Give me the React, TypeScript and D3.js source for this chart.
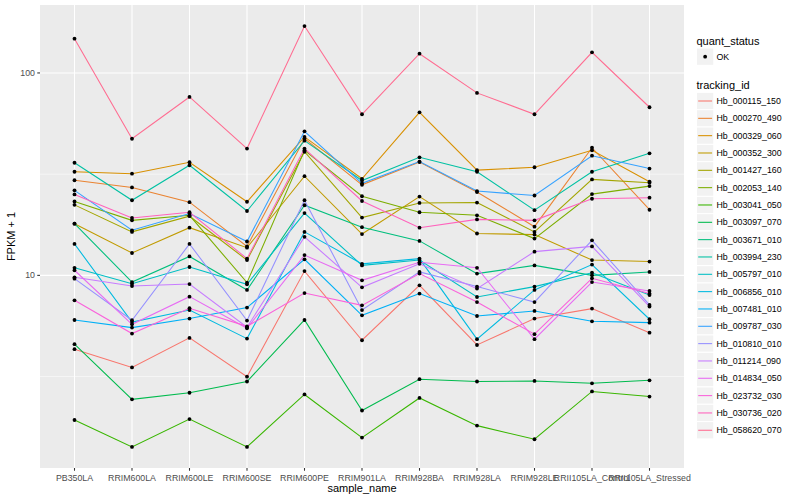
import { useEffect, useRef } from 'react';
import * as d3 from 'd3';

const samples = [
  'PB350LA', 'RRIM600LA', 'RRIM600LE', 'RRIM600SE', 'RRIM600PE', 'RRIM901LA',
  'RRIM928BA', 'RRIM928LA', 'RRIM928LE', 'RRII105LA_Control', 'RRII105LA_Stressed',
];

// FPKM + 1 per sample, one array per tracking_id
const hb_000115_150 = [4.32, 3.51, 4.91, 3.16, 10.5, 4.78, 8.93, 4.53, 6.12, 6.85, 5.21];
const hb_000270_490 = [29.5, 27.2, 23.0, 13.9, 47.4, 28.0, 36.3, 25.8, 17.4, 42.7, 21.1];
const hb_000329_060 = [32.5, 31.8, 36.2, 23.1, 48.3, 30.0, 63.9, 33.1, 34.2, 41.5, 29.0];
const hb_000352_300 = [18.0, 12.9, 17.2, 13.7, 30.9, 16.0, 24.5, 16.1, 15.9, 11.9, 11.7];
const hb_001427_160 = [22.3, 16.4, 19.6, 11.9, 40.8, 19.3, 22.8, 22.9, 16.4, 29.8, 28.7];
const hb_002053_140 = [23.2, 18.7, 19.8, 9.21, 41.5, 24.6, 20.5, 19.8, 15.2, 25.2, 27.6];
const hb_003041_050 = [1.93, 1.42, 1.95, 1.42, 2.58, 1.58, 2.48, 1.81, 1.55, 2.67, 2.52];
const hb_003097_070 = [4.57, 2.44, 2.63, 2.99, 6.02, 2.15, 3.07, 2.99, 3.01, 2.93, 3.03];
const hb_003671_010 = [18.0, 9.27, 12.4, 8.47, 22.2, 17.3, 14.8, 10.2, 11.2, 10.0, 10.4];
const hb_003994_230 = [36.0, 23.5, 35.0, 20.8, 46.3, 29.4, 38.3, 32.5, 21.0, 32.5, 40.1];
const hb_005797_010 = [10.9, 9.10, 11.0, 9.03, 20.3, 11.2, 11.9, 7.82, 8.80, 10.3, 8.00];
const hb_006856_010 = [14.3, 5.88, 6.74, 4.87, 16.4, 11.4, 12.1, 4.84, 8.47, 11.3, 6.07];
const hb_007481_010 = [6.02, 5.52, 6.12, 6.93, 12.0, 6.35, 8.13, 6.30, 6.67, 5.93, 5.84];
const hb_009787_030 = [26.3, 16.7, 20.2, 14.7, 51.5, 28.5, 36.5, 26.1, 24.8, 39.0, 33.7];
const hb_010810_010 = [9.63, 6.00, 14.3, 5.98, 23.5, 6.74, 10.4, 8.80, 7.38, 14.9, 7.14];
const hb_011214_090 = [9.78, 8.86, 9.06, 5.54, 15.5, 8.73, 11.4, 8.60, 13.1, 13.9, 7.01];
const hb_014834_050 = [10.6, 5.73, 7.85, 5.48, 12.6, 9.45, 11.6, 10.9, 4.84, 9.27, 8.37];
const hb_023732_030 = [7.53, 5.16, 6.88, 5.60, 8.18, 7.11, 10.2, 7.38, 5.12, 9.67, 8.13];
const hb_030736_020 = [25.1, 19.2, 20.5, 12.1, 42.3, 23.3, 17.2, 18.9, 18.7, 23.9, 24.2];
const hb_058620_070 = [147.6, 47.3, 76.1, 42.3, 170.5, 62.5, 124.5, 79.7, 62.5, 126.4, 67.7];

const trackingIds = [
  'Hb_000115_150', 'Hb_000270_490', 'Hb_000329_060', 'Hb_000352_300', 'Hb_001427_160',
  'Hb_002053_140', 'Hb_003041_050', 'Hb_003097_070', 'Hb_003671_010', 'Hb_003994_230',
  'Hb_005797_010', 'Hb_006856_010', 'Hb_007481_010', 'Hb_009787_030', 'Hb_010810_010',
  'Hb_011214_090', 'Hb_014834_050', 'Hb_023732_030', 'Hb_030736_020', 'Hb_058620_070',
];

const seriesValues = [
  hb_000115_150, hb_000270_490, hb_000329_060, hb_000352_300, hb_001427_160,
  hb_002053_140, hb_003041_050, hb_003097_070, hb_003671_010, hb_003994_230,
  hb_005797_010, hb_006856_010, hb_007481_010, hb_009787_030, hb_010810_010,
  hb_011214_090, hb_014834_050, hb_023732_030, hb_030736_020, hb_058620_070,
];

const yTicks = [10, 100];
const yMinor = [Math.sqrt(10), Math.sqrt(1000)];

// ggplot2 default hue palette for 20 levels
const palette = [
  '#F8766D', '#EA8331', '#D89000', '#C09B00', '#A3A500', '#7CAE00', '#39B600',
  '#00BB4E', '#00BF7D', '#00C1A3', '#00BFC4', '#00BAE0', '#00B0F6', '#35A2FF',
  '#9590FF', '#C77CFF', '#E76BF3', '#FA62DB', '#FF62BC', '#FF6C91',
];

const FONT = '"Liberation Sans", Arial, Helvetica, sans-serif';

export default function App() {
  const svgRef = useRef<SVGSVGElement>(null);

  useEffect(() => {
    if (!svgRef.current) return;
    const svg = d3.select(svgRef.current);
    svg.selectAll('*').remove();

    const width = 800;
    const height = 500;
    const panel = { left: 40, right: 684, top: 5, bottom: 468 };

    svg.append('rect').attr('width', width).attr('height', height).attr('fill', '#ffffff');

    const x = d3.scalePoint<string>()
      .domain(samples)
      .range([panel.left, panel.right])
      .padding(0.6);

    const all = seriesValues.flat();
    const lo = Math.log10(d3.min(all)!);
    const hi = Math.log10(d3.max(all)!);
    const pad = (hi - lo) * 0.05;
    const y = d3.scaleLog()
      .domain([Math.pow(10, lo - pad), Math.pow(10, hi + pad)])
      .range([panel.bottom, panel.top]);

    const color = d3.scaleOrdinal<string, string>().domain(trackingIds).range(palette);

    // panel
    svg.append('rect')
      .attr('x', panel.left).attr('y', panel.top)
      .attr('width', panel.right - panel.left).attr('height', panel.bottom - panel.top)
      .attr('fill', '#EBEBEB');

    const grid = svg.append('g');
    yMinor.forEach((v) => {
      grid.append('line')
        .attr('x1', panel.left).attr('x2', panel.right)
        .attr('y1', y(v)).attr('y2', y(v))
        .attr('stroke', '#ffffff').attr('stroke-width', 0.53);
    });
    yTicks.forEach((v) => {
      grid.append('line')
        .attr('x1', panel.left).attr('x2', panel.right)
        .attr('y1', y(v)).attr('y2', y(v))
        .attr('stroke', '#ffffff').attr('stroke-width', 1.07);
    });
    samples.forEach((s) => {
      grid.append('line')
        .attr('x1', x(s)!).attr('x2', x(s)!)
        .attr('y1', panel.top).attr('y2', panel.bottom)
        .attr('stroke', '#ffffff').attr('stroke-width', 1.07);
    });

    // lines
    const line = d3.line<number>()
      .x((_, i) => x(samples[i])!)
      .y((d) => y(d));

    const lines = svg.append('g');
    seriesValues.forEach((vals, i) => {
      lines.append('path')
        .attr('d', line(vals))
        .attr('fill', 'none')
        .attr('stroke', color(trackingIds[i]))
        .attr('stroke-width', 1.07);
    });

    // points
    const pts = svg.append('g');
    seriesValues.forEach((vals) => {
      vals.forEach((v, j) => {
        pts.append('circle')
          .attr('cx', x(samples[j])!)
          .attr('cy', y(v))
          .attr('r', 1.9)
          .attr('fill', '#000000');
      });
    });

    // axes
    const ax = svg.append('g').attr('font-family', FONT);
    samples.forEach((s) => {
      ax.append('line')
        .attr('x1', x(s)!).attr('x2', x(s)!)
        .attr('y1', panel.bottom).attr('y2', panel.bottom + 2.75)
        .attr('stroke', '#333333').attr('stroke-width', 1.07);
      ax.append('text')
        .attr('x', x(s)!).attr('y', panel.bottom + 12.5)
        .attr('text-anchor', 'middle')
        .attr('font-size', 8.8).attr('fill', '#4D4D4D')
        .text(s);
    });
    yTicks.forEach((v) => {
      ax.append('line')
        .attr('x1', panel.left - 2.75).attr('x2', panel.left)
        .attr('y1', y(v)).attr('y2', y(v))
        .attr('stroke', '#333333').attr('stroke-width', 1.07);
      ax.append('text')
        .attr('x', panel.left - 5).attr('y', y(v) + 3.1)
        .attr('text-anchor', 'end')
        .attr('font-size', 8.8).attr('fill', '#4D4D4D')
        .text(d3.format('d')(v));
    });
    ax.append('text')
      .attr('x', (panel.left + panel.right) / 2).attr('y', 491.5)
      .attr('text-anchor', 'middle').attr('font-size', 11).attr('fill', '#000000')
      .text('sample_name');
    ax.append('text')
      .attr('transform', `translate(15,${(panel.top + panel.bottom) / 2}) rotate(-90)`)
      .attr('text-anchor', 'middle').attr('font-size', 11).attr('fill', '#000000')
      .text('FPKM + 1');

    // legends
    const lg = svg.append('g').attr('font-family', FONT);
    const keyX = 696.5;
    const keySize = 17.28;
    lg.append('text').attr('x', 696.5).attr('y', 44.5)
      .attr('font-size', 11).attr('fill', '#000000').text('quant_status');
    lg.append('rect')
      .attr('x', keyX).attr('y', 56.7 - keySize / 2)
      .attr('width', keySize).attr('height', keySize)
      .attr('fill', '#F2F2F2').attr('stroke', '#ffffff');
    lg.append('circle')
      .attr('cx', keyX + keySize / 2).attr('cy', 56.7).attr('r', 1.9).attr('fill', '#000000');
    lg.append('text').attr('x', 716.5).attr('y', 59.8)
      .attr('font-size', 8.8).attr('fill', '#000000').text('OK');

    lg.append('text').attr('x', 696.5).attr('y', 89)
      .attr('font-size', 11).attr('fill', '#000000').text('tracking_id');
    trackingIds.forEach((id, i) => {
      const cy = 101 + i * 17.33;
      lg.append('rect')
        .attr('x', keyX).attr('y', cy - keySize / 2)
        .attr('width', keySize).attr('height', keySize)
        .attr('fill', '#F2F2F2').attr('stroke', '#ffffff');
      lg.append('line')
        .attr('x1', keyX + 1.7).attr('x2', keyX + keySize - 1.7)
        .attr('y1', cy).attr('y2', cy)
        .attr('stroke', color(id)).attr('stroke-width', 1.07);
      lg.append('text').attr('x', 716.5).attr('y', cy + 3.1)
        .attr('font-size', 8.8).attr('fill', '#000000').text(id);
    });
  }, []);

  return (
    <svg
      ref={svgRef}
      width={800}
      height={500}
      style={{ position: 'absolute', left: 0, top: 0, display: 'block' }}
    />
  );
}
